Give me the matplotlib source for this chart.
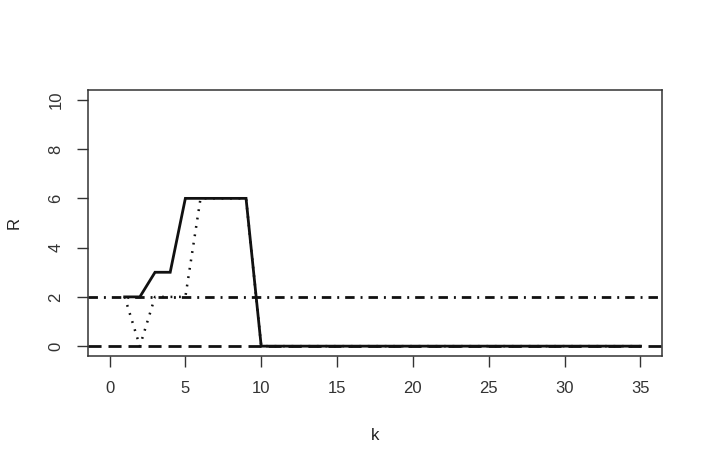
import matplotlib
matplotlib.use("Agg")
import matplotlib.pyplot as plt
import numpy as np

plt.rcParams['font.family'] = ['Liberation Sans', 'DejaVu Sans']
plt.rcParams['lines.scale_dashes'] = False

# data
k = np.arange(1, 36)
r_solid = [2, 2, 3, 3, 6, 6, 6, 6, 6] + [0] * 26
r_dotted = [2, 0, 2, 2, 2, 6, 6, 6, 6] + [0] * 26
level_low = 0
level_high = 2

xticks = [0, 5, 10, 15, 20, 25, 30, 35]
yticks = [0, 2, 4, 6, 8, 10]

fig = plt.figure(figsize=(7.09, 4.68), dpi=100)
ax = fig.add_axes([0.1245, 0.2393, 0.8088, 0.5684])

ax.axhline(level_low, color='#111111', lw=2.0, linestyle=(0, (9.4, 5)))
ax.axhline(level_high, color='#111111', lw=2.0, linestyle=(0, (6.8, 4.3, 1.4, 4.3)))
ax.plot(k, r_dotted, color='#111111', lw=1.8, linestyle=(0, (1.3, 4.8)))
ax.plot(k, r_solid, color='#111111', lw=2.0, solid_joinstyle='miter')

ax.set_xlim(-1.4, 36.4)
ax.set_ylim(-0.4, 10.4)
ax.set_xticks(xticks)
ax.set_yticks(yticks)
ax.tick_params(length=8, width=1, pad=10, labelsize=12, colors='#333333')
for lab in ax.get_yticklabels():
    lab.set_rotation(90)
    lab.set_va('center')

for s in ax.spines.values():
    s.set_linewidth(1.1)
    s.set_color('#333333')

ax.set_xlabel('k', fontsize=12, color='#222222')
ax.set_ylabel('R', fontsize=12, color='#222222')
ax.xaxis.set_label_coords(0.5, -0.297)
ax.yaxis.set_label_coords(-0.1296, 0.5)
ax.xaxis.label.set_va('center')
ax.yaxis.label.set_va('center')

fig.savefig('out.png', dpi=100)
